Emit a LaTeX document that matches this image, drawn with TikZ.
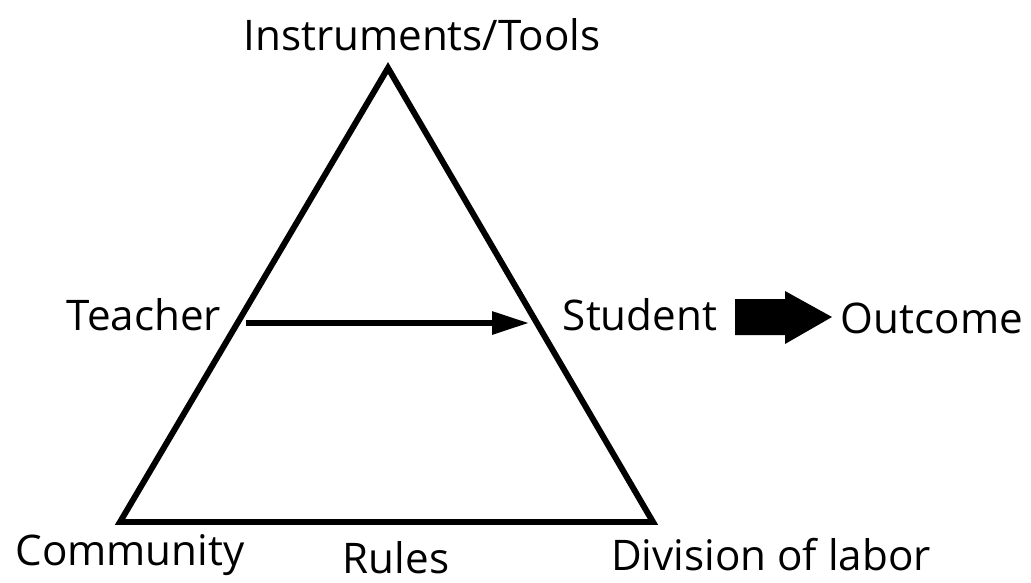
\documentclass[tikz,border=0pt]{standalone}
\usepackage{fontspec}
\setmainfont{Open Sans}
\usetikzlibrary{positioning}
\usetikzlibrary{arrows.meta}

\tikzset{
  lbl/.style={inner sep=0pt,font=\fontsize{24}{29}\selectfont},
  side/.style={line width=3.4pt,line join=miter},
}

\begin{document}
\begin{tikzpicture}[x=0.02cm,y=-0.02cm]
            \useasboundingbox (0,0) rectangle (1031,582);

            \coordinate (top) at (388,68);
            \coordinate (bl) at (120,522);
            \coordinate (br) at (653,522);
            \coordinate (tpt) at (246,323);
            \coordinate (spt) at (529,323);

            \node[lbl] (tools) at (422,35) {Instruments/Tools};
            \node[lbl] (teacher) at (144,315) {Teacher};
            \node[lbl] (student) at (640,315) {Student};
            \node[lbl] (outcome) at (932,318) {Outcome};
            \node[lbl] (community) at (130,555) {Community};
            \node[lbl] (rules) at (396,558) {Rules};
            \node[lbl] (division) at (771,555) {Division of labor};

            \draw[side] (top) -- (bl) -- (br) -- cycle;
            \draw[line width=3.3pt,-{Triangle[length=21pt,width=12.5pt]}] (tpt) -- (spt);

            \fill (735,299) -- (785,299) -- (785,291) -- (832,317) -- (785,344) -- (785,335) -- (735,335) -- cycle;
          \end{tikzpicture}
\end{document}
